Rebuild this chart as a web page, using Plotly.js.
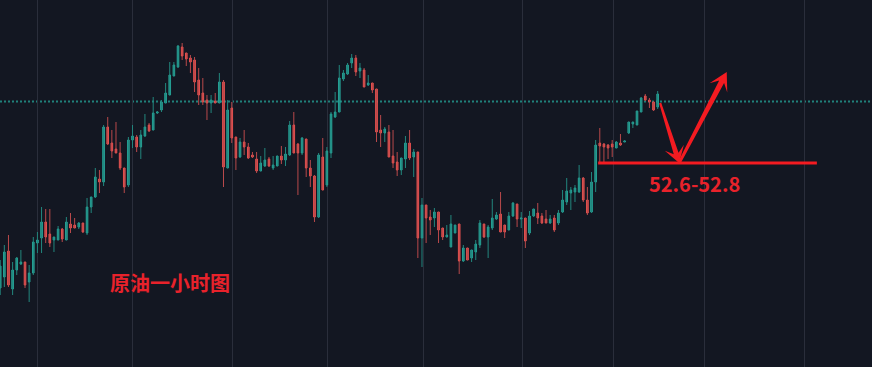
<!DOCTYPE html>
<html>
<head>
<meta charset="utf-8">
<script src="https://cdn.plot.ly/plotly-3.0.1.min.js"></script>
<style>
  html, body { margin: 0; padding: 0; background: #131722; }
  #chart { width: 872px; height: 367px; }
</style>
</head>
<body>
<div id="chart"></div>
<script>
// ---- Data (hourly crude oil candles) ----
const open = [
  51.45, 51.56, 51.82, 51.44, 51.63, 51.69, 51.71, 51.51, 51.60, 51.90,
  51.95, 52.11, 51.99, 51.93, 51.93, 52.04, 51.93, 52.09, 52.08, 52.06,
  52.10, 52.00, 52.26, 52.36, 52.54, 52.51, 53.06, 52.90, 52.84, 52.80,
  52.65, 52.48, 52.93, 52.96, 52.86, 52.97, 53.08, 53.03, 53.20, 53.23,
  53.30, 53.38, 53.57, 53.66, 53.86, 53.80, 53.75, 53.73, 53.53, 53.40,
  53.33, 53.30, 53.32, 53.30, 53.51, 52.65, 53.25, 52.96, 52.76, 52.91,
  52.86, 52.78, 52.74, 52.62, 52.67, 52.74, 52.65, 52.67, 52.77, 52.73,
  52.78, 53.08, 52.89, 52.80, 52.94, 52.65, 52.57, 52.16, 52.76, 52.48,
  52.80, 53.16, 53.21, 53.54, 53.59, 53.70, 53.75, 53.62, 53.63, 53.48,
  53.50, 53.44, 53.03, 53.00, 53.01, 52.77, 52.71, 52.63, 52.74, 52.90,
  52.76, 52.81, 51.95, 52.28, 52.16, 52.15, 52.21, 52.05, 51.96, 51.86,
  52.00, 52.09, 51.72, 51.85, 51.75, 51.81, 51.88, 52.09, 51.96, 52.05,
  52.14, 52.19, 52.08, 52.03, 52.17, 52.29, 52.14, 52.15, 52.00, 52.17,
  52.20, 52.17, 52.14, 52.10, 52.15, 52.10, 52.21, 52.31, 52.40, 52.41,
  52.41, 52.55, 52.33, 52.21, 52.51, 52.90, 52.89, 52.88, 52.89, 52.85,
  52.90, 52.91, 53.00, 53.09, 53.08, 53.21, 53.37, 53.33, 53.31, 53.26
];
const high = [
  51.73, 51.88, 51.98, 51.71, 51.76, 51.83, 51.71, 51.68, 51.96, 52.01,
  52.26, 52.24, 52.24, 51.96, 52.07, 52.05, 52.16, 52.20, 52.15, 52.11,
  52.10, 52.35, 52.36, 52.65, 52.63, 53.08, 53.16, 53.03, 53.11, 52.91,
  52.65, 52.96, 53.08, 52.98, 53.03, 53.19, 53.10, 53.36, 53.22, 53.33,
  53.50, 53.71, 53.71, 53.88, 53.90, 53.80, 53.78, 53.76, 53.65, 53.55,
  53.38, 53.38, 53.40, 53.60, 53.53, 53.33, 53.31, 52.96, 52.95, 53.03,
  52.90, 52.81, 52.81, 52.77, 52.85, 52.76, 52.77, 52.77, 52.87, 52.86,
  53.12, 53.21, 52.90, 52.96, 52.94, 52.73, 52.58, 52.80, 52.95, 52.86,
  53.21, 53.41, 53.68, 53.63, 53.70, 53.79, 53.78, 53.70, 53.65, 53.58,
  53.50, 53.44, 53.18, 53.06, 53.08, 53.03, 52.81, 52.75, 52.97, 53.03,
  52.84, 52.81, 52.35, 52.28, 52.23, 52.25, 52.21, 52.05, 52.08, 52.18,
  52.08, 52.09, 51.88, 51.85, 51.83, 51.93, 52.13, 52.09, 52.08, 52.34,
  52.21, 52.41, 52.08, 52.21, 52.31, 52.29, 52.21, 52.15, 52.22, 52.24,
  52.30, 52.20, 52.23, 52.18, 52.18, 52.23, 52.43, 52.55, 52.46, 52.48,
  52.68, 52.56, 52.46, 52.61, 52.93, 53.05, 52.90, 52.89, 52.93, 52.92,
  52.99, 52.92, 53.11, 53.11, 53.22, 53.36, 53.39, 53.35, 53.32, 53.42
];
const low = [
  51.38, 51.46, 51.46, 51.38, 51.58, 51.68, 51.45, 51.31, 51.58, 51.80,
  51.80, 51.90, 51.86, 51.81, 51.93, 51.91, 51.93, 52.00, 52.05, 52.04,
  52.00, 51.98, 52.20, 52.35, 52.40, 52.47, 52.88, 52.75, 52.80, 52.63,
  52.40, 52.46, 52.85, 52.81, 52.74, 52.96, 53.01, 53.03, 53.19, 53.21,
  53.30, 53.38, 53.57, 53.65, 53.73, 53.67, 53.60, 53.41, 53.28, 53.28,
  53.13, 53.20, 53.30, 53.30, 52.46, 52.65, 52.90, 52.63, 52.75, 52.78,
  52.74, 52.75, 52.60, 52.62, 52.66, 52.66, 52.63, 52.67, 52.69, 52.67,
  52.77, 52.80, 52.38, 52.78, 52.56, 52.46, 52.11, 52.15, 52.43, 52.46,
  52.75, 53.15, 53.21, 53.52, 53.58, 53.65, 53.57, 53.55, 53.46, 53.47,
  53.40, 52.91, 52.86, 52.91, 52.76, 52.65, 52.57, 52.58, 52.65, 52.73,
  52.56, 51.75, 51.66, 51.90, 51.98, 52.06, 51.90, 51.93, 51.96, 51.86,
  52.00, 51.59, 51.71, 51.73, 51.71, 51.73, 51.85, 51.95, 51.75, 52.03,
  52.13, 52.01, 51.95, 52.03, 52.16, 52.06, 52.05, 51.85, 51.98, 52.16,
  52.09, 52.09, 52.10, 52.09, 52.01, 52.08, 52.20, 52.28, 52.23, 52.31,
  52.40, 52.31, 52.18, 52.20, 52.41, 52.71, 52.71, 52.74, 52.76, 52.85,
  52.87, 52.91, 52.99, 53.05, 53.08, 53.21, 53.32, 53.25, 53.22, 53.24
];
const close = [
  51.67, 51.81, 51.48, 51.63, 51.75, 51.71, 51.48, 51.60, 51.91, 51.93,
  52.11, 51.96, 51.90, 51.96, 52.04, 51.94, 52.11, 52.05, 52.05, 52.10,
  52.01, 52.26, 52.36, 52.56, 52.51, 53.06, 52.89, 52.82, 52.80, 52.65,
  52.46, 52.93, 52.97, 52.86, 52.98, 53.06, 53.02, 53.20, 53.21, 53.31,
  53.40, 53.58, 53.68, 53.87, 53.77, 53.74, 53.71, 53.51, 53.38, 53.31,
  53.30, 53.33, 53.30, 53.51, 52.66, 53.23, 52.95, 52.75, 52.91, 52.86,
  52.75, 52.76, 52.62, 52.70, 52.73, 52.67, 52.68, 52.77, 52.73, 52.79,
  53.08, 52.80, 52.80, 52.95, 52.65, 52.57, 52.16, 52.78, 52.43, 52.82,
  53.19, 53.21, 53.55, 53.60, 53.68, 53.75, 53.61, 53.65, 53.46, 53.50,
  53.43, 53.01, 53.00, 53.04, 52.76, 52.70, 52.63, 52.75, 52.90, 52.75,
  52.81, 51.95, 52.28, 52.15, 52.13, 52.21, 52.03, 51.96, 51.98, 52.09,
  52.08, 51.72, 51.85, 51.73, 51.83, 51.89, 52.10, 51.96, 52.06, 52.15,
  52.18, 52.01, 52.01, 52.17, 52.30, 52.14, 52.15, 51.92, 52.17, 52.24,
  52.15, 52.10, 52.10, 52.14, 52.03, 52.20, 52.33, 52.42, 52.43, 52.45,
  52.55, 52.33, 52.20, 52.51, 52.88, 52.87, 52.86, 52.85, 52.86, 52.91,
  52.88, 52.92, 53.11, 53.11, 53.22, 53.35, 53.33, 53.31, 53.23, 53.39
];
// bar index (one per hour)
const hours = open.map((_, i) => i);
// session separators (vertical grid), in bar units
const dayBreaks = [9.07, 32.05, 56.06, 79.2, 102.3, 126.2, 148.3, 170.25, 194.4];
// dotted price level
const levelLine = 53.315;
// target zone and support line
const targetZone = [52.6, 52.8];
const supportLine = { from: 144.6, to: 197.5, price: 52.70 };
// arrow waypoints (bar, price)
const arrowBars = [159.6, 164.2, 175.7];
const arrowPrices = [53.30, 52.70, 53.61];
// labels
const zoneLabel = { bar: 167.8, price: 52.50 };
const titleLabel = { text: '原油一小时图', bar: 41.1, price: 51.51 };

// ---- Styling ----
const W = 872, H = 367;
const xRange = [-0.05, 210.83];
const yRange = [50.66, 54.33];
const UP = '#26a69a', DOWN = '#ef5350';
const UP_WICK = '#23877e', DOWN_WICK = '#b9494b';
const RED = '#f41b21', TEXT_RED = '#e8222b';

// wick traces
function wicks(up) {
  const xs = [], ys = [];
  for (let i = 0; i < open.length; i++) {
    const isUp = close[i] > open[i];
    if (isUp !== up) continue;
    xs.push(hours[i], hours[i], null);
    ys.push(low[i], high[i], null);
  }
  return {
    type: 'scatter', mode: 'lines', x: xs, y: ys,
    line: { color: up ? UP_WICK : DOWN_WICK, width: 1 },
    hoverinfo: 'skip', showlegend: false
  };
}

// bodies only (wicks drawn separately, dimmer)
const bodyHigh = open.map((o, i) => Math.max(o, close[i]));
const bodyLow = open.map((o, i) => Math.min(o, close[i]));
const bodies = {
  type: 'candlestick', x: hours, open: open, high: bodyHigh, low: bodyLow, close: close,
  increasing: { line: { color: UP, width: 1 }, fillcolor: UP },
  decreasing: { line: { color: DOWN, width: 1 }, fillcolor: DOWN },
  whiskerwidth: 0, showlegend: false, hoverinfo: 'skip'
};

// pixel helpers for the arrow outlines
const toPx = (b, p) => [ (b - xRange[0]) / (xRange[1] - xRange[0]) * W,
                         (yRange[1] - p) / (yRange[1] - yRange[0]) * H ];
const toData = (x, y) => [ xRange[0] + x / W * (xRange[1] - xRange[0]),
                           yRange[1] - y / H * (yRange[1] - yRange[0]) ];

function arrowPath(T, P, headLen, headHalf, neck, w0, w1) {
  const dx = P[0] - T[0], dy = P[1] - T[1];
  const L = Math.hypot(dx, dy);
  const d = [dx / L, dy / L], n = [-d[1], d[0]];
  const at = (base, along, side) => [base[0] + d[0] * along + n[0] * side,
                                     base[1] + d[1] * along + n[1] * side];
  const pts = [
    at(T, 0, w0 / 2),
    at(P, -neck, w1 / 2),
    at(P, -headLen, headHalf),
    P,
    at(P, -headLen, -headHalf),
    at(P, -neck, -w1 / 2),
    at(T, 0, -w0 / 2)
  ].map(q => toData(q[0], q[1]));
  return 'M' + pts.map(q => q[0].toFixed(4) + ',' + q[1].toFixed(5)).join(' L') + ' Z';
}

const a0 = toPx(arrowBars[0], arrowPrices[0]);
const a1 = toPx(arrowBars[1], arrowPrices[1]);
const a2 = toPx(arrowBars[2], arrowPrices[2]);

const shapes = [
  { type: 'line', xref: 'paper', x0: 0, x1: 1, yref: 'y', y0: levelLine, y1: levelLine,
    line: { color: 'rgba(38,166,154,0.75)', width: 2, dash: '2px,2px' }, layer: 'below' },
  { type: 'line', xref: 'x', yref: 'y', x0: supportLine.from, x1: supportLine.to,
    y0: supportLine.price, y1: supportLine.price, line: { color: RED, width: 3 } },
  { type: 'path', xref: 'x', yref: 'y', path: arrowPath(a0, a1, 16, 10, 10, 2.2, 5),
    fillcolor: RED, line: { width: 0 } },
  { type: 'path', xref: 'x', yref: 'y', path: arrowPath(a1, a2, 18, 10, 11, 2.8, 5.5),
    fillcolor: RED, line: { width: 0 } }
];

const annotations = [
  { xref: 'x', yref: 'y', x: zoneLabel.bar, y: zoneLabel.price,
    text: '<b>' + targetZone[0].toFixed(1) + '-' + targetZone[1].toFixed(1) + '</b>',
    showarrow: false, font: { family: 'Noto Sans CJK SC, Liberation Sans, sans-serif', size: 20, color: TEXT_RED } },
  { xref: 'x', yref: 'y', x: titleLabel.bar, y: titleLabel.price,
    text: '<b>' + titleLabel.text + '</b>',
    showarrow: false, font: { family: 'Noto Sans CJK SC, sans-serif', size: 20, color: TEXT_RED } }
];

const layout = {
  width: W, height: H,
  margin: { l: 0, r: 0, t: 0, b: 0, pad: 0 },
  paper_bgcolor: '#131722', plot_bgcolor: '#131722',
  showlegend: false,
  boxgap: 0.45,
  xaxis: {
    range: xRange, type: 'linear', fixedrange: true,
    rangeslider: { visible: false },
    tickmode: 'array', tickvals: dayBreaks, showticklabels: false, ticks: '',
    showgrid: true, gridcolor: '#2a2e3b', gridwidth: 1,
    zeroline: false, showline: false
  },
  yaxis: {
    range: yRange, fixedrange: true, showgrid: false, showticklabels: false,
    ticks: '', zeroline: false, showline: false
  },
  shapes: shapes,
  annotations: annotations
};

Plotly.newPlot('chart', [wicks(true), wicks(false), bodies], layout,
  { staticPlot: true, displayModeBar: false });
</script>
</body>
</html>
